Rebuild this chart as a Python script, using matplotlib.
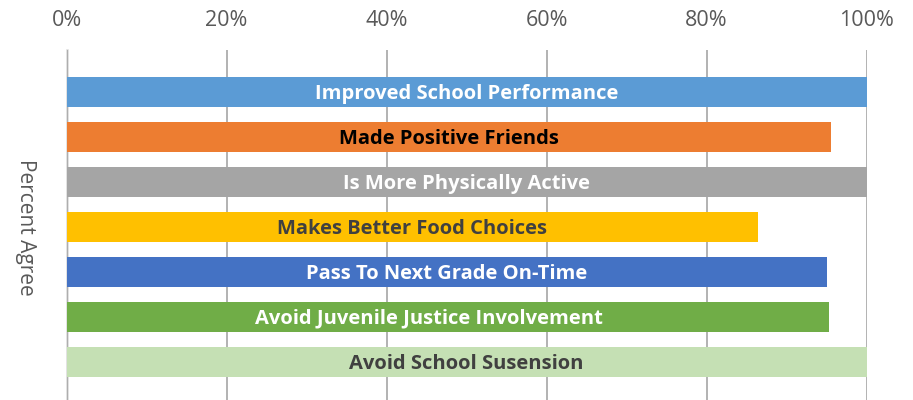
import matplotlib
matplotlib.use("Agg")
import matplotlib.pyplot as plt
from matplotlib.ticker import PercentFormatter

### data #####
categories = ["Improved School Performance", "Made Positive Friends",
              "Is More Physically Active", "Makes Better Food Choices",
              "Pass To Next Grade On-Time", "Avoid Juvenile Justice Involvement       ",
              "Avoid School Susension"]
values = [1.00, 0.955, 1.00, 0.864, 0.951, 0.953, 1.00]
bar_colors = ["#5B9BD5", "#ED7D31", "#A5A5A5", "#FFC000", "#4472C4", "#70AD47", "#C5E0B4"]
text_colors = ["white", "black", "white", "#404040", "white", "white", "#404040"]
xticks = [0, 0.2, 0.4, 0.6, 0.8, 1.0]

plt.rcParams['font.family'] = ['Open Sans', 'DejaVu Sans']

fig = plt.figure(figsize=(9.13, 4.0), dpi=100)
ax = fig.add_axes([66.5/913, 0, 800.2/913, 1 - 50/400])

pos = list(range(len(categories)))
ax.barh(pos, values, height=0.667, color=bar_colors, zorder=2)

for p, v, name, tc in zip(pos, values, categories, text_colors):
    ax.text(v/2, p + 0.04, name, ha='center', va='center', color=tc,
            fontsize=14.5, fontweight='bold', zorder=3)

ax.set_xlim(0, 1)
ax.set_ylim(6.844, -0.933)
ax.set_xticks(xticks)
ax.xaxis.set_major_formatter(PercentFormatter(1.0, decimals=0))
ax.xaxis.tick_top()
ax.tick_params(axis='x', length=0, pad=14, labelsize=15.5, labelcolor='#595959')
ax.set_yticks([])
ax.grid(axis='x', color='#A6A6A6', linewidth=1.2, zorder=0)

for s in ['top', 'right', 'bottom']:
    ax.spines[s].set_visible(False)
ax.spines['left'].set_color('#D9D9D9')
ax.spines['left'].set_linewidth(1.8)
ax.spines['left'].set_zorder(1)

fig.text(25/913, 1 - 227/400, "Percent Agree", rotation=-90, ha='center', va='center',
         fontsize=15, color='#595959')

fig.savefig("out.png", dpi=100)
plt.close()
